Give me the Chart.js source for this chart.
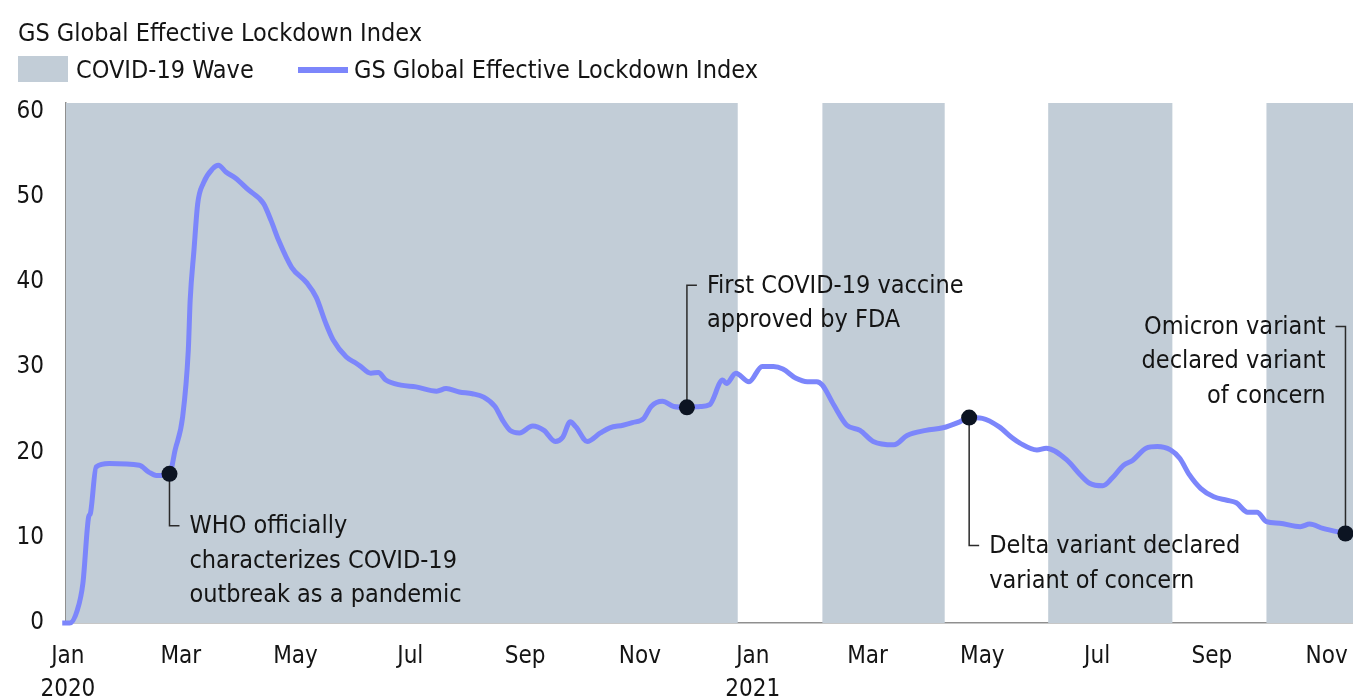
<!DOCTYPE html>
<html>
<head>
<meta charset="utf-8">
<script src="https://cdn.jsdelivr.net/npm/chart.js@4.4.1/dist/chart.umd.min.js"></script>
<style>
html, body { margin: 0; padding: 0; background: #fff; overflow: hidden; }
#wrap { position: relative; width: 1353px; height: 699px; }
#chart { position: absolute; left: 0; top: 0; }
.txt { position: absolute; font-family: "Liberation Sans Narrow", "DejaVu Sans Condensed", "Roboto", sans-serif; font-size: 25px; line-height: 1; color: #141414; white-space: nowrap; }
.box { position: absolute; left: 18px; top: 56px; width: 50px; height: 26px; background: #c2cdd7; }
.swatch { position: absolute; left: 298px; top: 67px; width: 50px; height: 6px; background: #7c86fb; }
</style>
</head>
<body>
<div id="wrap">
  <canvas id="chart" width="1353" height="699"></canvas>
  <div class="txt" style="left:18px; top:20px;">GS Global Effective Lockdown Index</div>
  <div class="box"></div>
  <div class="txt" style="left:76px; top:57px;">COVID-19 Wave</div>
  <div class="swatch"></div>
  <div class="txt" style="left:354px; top:57px;">GS Global Effective Lockdown Index</div>
</div>
<script>
const FONT = '"Liberation Sans Narrow", "DejaVu Sans Condensed", "Roboto", sans-serif';

// days counted from 2020-01-01
const indexDays = [13,17,21,24,27,28,31,38,54,59,63,70,73,77,80,81,83,85,88,93,
    96,100,105,112,120,124,128,135,143,148,153,157,164,169,171,177,181,185,193,201,
    212,217,224,231,237,243,247,251,256,263,269,275,279,283,286,292,299,304,311,316,
    322,326,332,338,345,352,357,364,366,371,378,385,391,396,403,409,414,417,423,430,
    437,444,455,462,472,481,490,495,502,511,518,522,531,536,547,554,559,566,571,577,
    582,589,595,602,607,612,618,625,632,637,643,648,653,660,671,676,683,695];
const indexValues = [0,0,1.5,4.7,12.4,12.9,18.3,18.7,18.5,17.7,17.3,17.5,20.3,24.2,32,37.9,43.7,49.2,51.6,53.3,
    53.7,52.9,52.2,50.8,49.2,47.2,44.9,41.7,39.9,38.2,35.2,33.2,31.2,30.5,30.2,29.3,29.4,28.5,27.9,27.7,
    27.2,27.5,27.1,26.9,26.5,25.4,23.8,22.6,22.3,23.1,22.6,21.3,21.8,23.6,23.0,21.3,22.3,22.9,23.2,23.5,
    24.0,25.4,26.0,25.4,25.3,25.4,25.6,28.5,28.1,29.3,28.3,30.1,30.1,29.8,28.7,28.3,28.3,27.9,25.6,23.2,
    22.6,21.3,20.9,22.0,22.6,22.9,23.6,24.1,24.0,23.0,21.7,21.1,20.3,20.5,19.1,17.4,16.4,16.1,17.0,18.5,
    19.1,20.5,20.7,20.3,19.3,17.4,15.8,14.8,14.4,14.1,13.0,13.0,11.9,11.7,11.3,11.6,11.1,10.5];

const waveStarts = [15, 417, 537, 653];
const waveEnds = [372, 482, 603, 699];

const eventDays = [70, 345, 495, 695];
const eventLabels = [
    ["WHO officially", "characterizes COVID-19", "outbreak as a pandemic"],
    ["First COVID-19 vaccine", "approved by FDA"],
    ["Delta variant declared", "variant of concern"],
    ["Omicron variant", "declared variant", "of concern"]
];
// leader line length (px) and which side the text sits on
const eventDy = [52, -122, 128, -207];
const eventSide = [1, 1, 1, -1];

const tickDays = [16, 76, 137, 198, 259, 320, 380, 441, 502, 563, 624, 685];
const tickLabels = [["Jan", "2020"], "Mar", "May", "Jul", "Sep", "Nov",
    ["Jan", "2021"], "Mar", "May", "Jul", "Sep", "Nov"];
const yTicks = [0, 10, 20, 30, 40, 50, 60];

const xMin = 15, xMax = 699, yMax = 61;

let wavePoints = [];
for (let i = 0; i < waveStarts.length; i++){
    wavePoints.push({x: waveStarts[i], y: 0});
    wavePoints.push({x: waveStarts[i], y: yMax});
    wavePoints.push({x: waveEnds[i], y: yMax});
    wavePoints.push({x: waveEnds[i], y: 0});
}

let linePoints = indexDays.map((d, i) => ({x: d, y: indexValues[i]}));
let eventPoints = eventDays.map(d => ({x: d, y: indexValues[indexDays.indexOf(d)]}));

const notes_plugin = {
    id: 'notes',
    afterDatasetDraw(chart, args){
        if (args.index !== 0) return;
        const ctx = chart.ctx;
        const xs = chart.scales.x;
        const ys = chart.scales.y;
        ctx.save();
        ctx.font = '25px ' + FONT;
        ctx.fillStyle = '#141414';
        ctx.textBaseline = 'middle';
        for (let i = 0; i < eventPoints.length; i++){
            const px = xs.getPixelForValue(eventPoints[i].x);
            const py = ys.getPixelForValue(eventPoints[i].y);
            const side = eventSide[i];
            const ly = py + eventDy[i];
            ctx.strokeStyle = '#2a2a2a';
            ctx.lineWidth = 1.5;
            ctx.beginPath();
            ctx.moveTo(px, py);
            ctx.lineTo(px, ly);
            ctx.lineTo(px + side * 10, ly);
            ctx.stroke();
            ctx.textAlign = side > 0 ? 'left' : 'right';
            eventLabels[i].forEach((t, j) => {
                ctx.fillText(t, px + side * 20, ly + 1 + j * 34.5);
            });
        }
        ctx.restore();
    }
};

Chart.defaults.font.family = FONT;
Chart.defaults.font.size = 24;
Chart.defaults.color = '#141414';

const chart = new Chart(document.getElementById('chart'), {
    type: 'line',
    data: {
        datasets: [
            {
                label: 'COVID-19 Wave',
                data: wavePoints,
                fill: 'origin',
                backgroundColor: '#c2cdd7',
                borderWidth: 0,
                pointRadius: 0,
                tension: 0,
                order: 3
            },
            {
                label: 'GS Global Effective Lockdown Index',
                data: linePoints,
                borderColor: '#7c86fb',
                borderWidth: 5,
                pointRadius: 0,
                cubicInterpolationMode: 'monotone',
                fill: false,
                clip: false,
                order: 2
            },
            {
                label: 'events',
                data: eventPoints,
                showLine: false,
                pointRadius: 8,
                pointBackgroundColor: '#0c1422',
                pointBorderWidth: 0,
                clip: false,
                order: 1
            }
        ]
    },
    options: {
        responsive: false,
        animation: false,
        devicePixelRatio: 1,
        layout: { autoPadding: false, padding: { top: 103, right: 0, bottom: 0, left: 0 } },
        plugins: {
            legend: { display: false },
            tooltip: { enabled: false }
        },
        scales: {
            x: {
                type: 'linear',
                min: xMin,
                max: xMax,
                grid: { display: false },
                border: { display: true, color: '#8f8f8f', width: 1.5 },
                afterBuildTicks: (scale) => { scale.ticks = tickDays.map(v => ({value: v})); },
                afterFit: (scale) => { scale.height = 76; scale.paddingLeft = 0; scale.paddingRight = 0; },
                ticks: {
                    autoSkip: false,
                    maxRotation: 0,
                    padding: 10,
                    font: { size: 24, lineHeight: 1.35 },
                    callback: (value, index) => tickLabels[index]
                }
            },
            y: {
                min: 0,
                max: yMax,
                grid: { display: false },
                border: { display: true, color: '#8f8f8f', width: 1.5 },
                afterBuildTicks: (scale) => { scale.ticks = yTicks.map(v => ({value: v})); },
                afterFit: (scale) => { scale.width = 66; },
                ticks: { padding: 14, font: { size: 24 } }
            }
        }
    },
    plugins: [notes_plugin]
});
</script>
</body>
</html>
